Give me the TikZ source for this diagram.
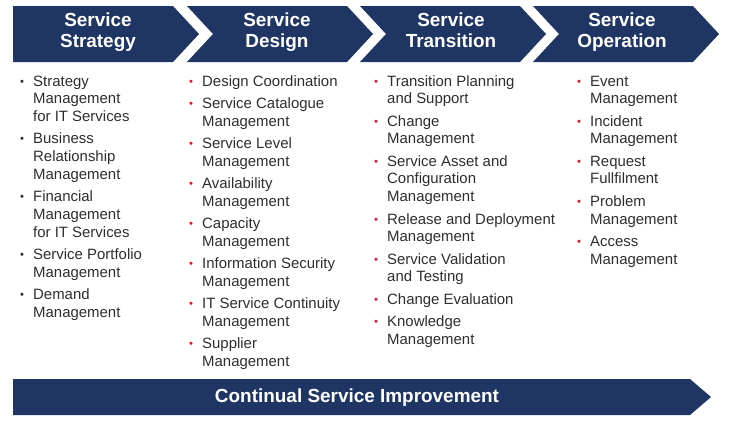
\documentclass[tikz,border=0pt]{standalone}
\usepackage{fontspec}
\setmainfont{Liberation Sans}
\usepackage{xcolor}
\usepackage{graphicx}
\usetikzlibrary{positioning,calc}
\definecolor{itnavy}{RGB}{31,53,100}
\definecolor{itred}{RGB}{226,22,50}
\definecolor{itink}{RGB}{45,45,45}
\newcommand{\blt}[1]{\makebox[13bp][l]{\textcolor{#1}{\raisebox{1bp}{\scalebox{0.75}{\textbullet}}}}}
\newcommand{\gap}{\\[4.4bp]}
\tikzset{
  chev/.style={fill=itnavy},
  head/.style={
    text=white, align=center, inner sep=0pt, text depth=5bp,
    font=\fontsize{19}{21}\selectfont\bfseries
  },
  col/.style={
    anchor=base west, inner sep=0pt, text=itink,
    font=\fontsize{15}{17.9}\selectfont
  }
}

\begin{document}
\begin{tikzpicture}[x=1bp,y=-1bp]
  \useasboundingbox (0,0) rectangle (730,425);
  % lifecycle chevrons
  \fill[chev] (13,6) -- (173,6) -- (199,34) -- (173,62) -- (13,62) -- cycle;
  \foreach \x in {187,360,533}
    \fill[chev] (\x,6) -- ++(160,0) -- ++(26,28) -- ++(-26,28)
      -- ++(-160,0) -- ++(26,-28) -- cycle;
  \node[head] (strat) at (98,33) {Service\\Strategy};
  \node[head] (design) at (277,33) {Service\\Design};
  \node[head] (trans) at (451,33) {Service\\Transition};
  \node[head] (oper) at (622,33) {Service\\Operation};

  % processes per stage
  \node[col] (stratlist) at (20,86) {\begin{tabular}[t]{@{}l@{}l@{}}
    \blt{itink} & Strategy\\ & Management\\ & for IT Services\gap
    \blt{itink} & Business\\ & Relationship\\ & Management\gap
    \blt{itink} & Financial\\ & Management\\ & for IT Services\gap
    \blt{itink} & Service Portfolio\\ & Management\gap
    \blt{itink} & Demand\\ & Management
  \end{tabular}};
  \node[col] (designlist) at (189,86) {\begin{tabular}[t]{@{}l@{}l@{}}
    \blt{itred} & Design Coordination\gap
    \blt{itred} & Service Catalogue\\ & Management\gap
    \blt{itred} & Service Level\\ & Management\gap
    \blt{itred} & Availability\\ & Management\gap
    \blt{itred} & Capacity\\ & Management\gap
    \blt{itred} & Information Security\\ & Management\gap
    \blt{itred} & IT Service Continuity\\ & Management\gap
    \blt{itred} & Supplier\\ & Management
  \end{tabular}};
  \node[col] (translist) at (374,86) {\begin{tabular}[t]{@{}l@{}l@{}}
    \blt{itred} & Transition Planning\\ & and Support\gap
    \blt{itred} & Change\\ & Management\gap
    \blt{itred} & Service Asset and\\ & Configuration\\ & Management\gap
    \blt{itred} & Release and Deployment\\ & Management\gap
    \blt{itred} & Service Validation\\ & and Testing\gap
    \blt{itred} & Change Evaluation\gap
    \blt{itred} & Knowledge\\ & Management
  \end{tabular}};
  \node[col] (operlist) at (577,86) {\begin{tabular}[t]{@{}l@{}l@{}}
    \blt{itred} & Event\\ & Management\gap
    \blt{itred} & Incident\\ & Management\gap
    \blt{itred} & Request\\ & Fullfilment\gap
    \blt{itred} & Problem\\ & Management\gap
    \blt{itred} & Access\\ & Management
  \end{tabular}};

  % improvement bar
  \fill[chev] (13,379) -- (690,379) -- (711,397) -- (690,415) -- (13,415) -- cycle;
  \node[head, anchor=base, text depth=] (csi) at (357,402) {Continual Service Improvement};
\end{tikzpicture}
\end{document}
